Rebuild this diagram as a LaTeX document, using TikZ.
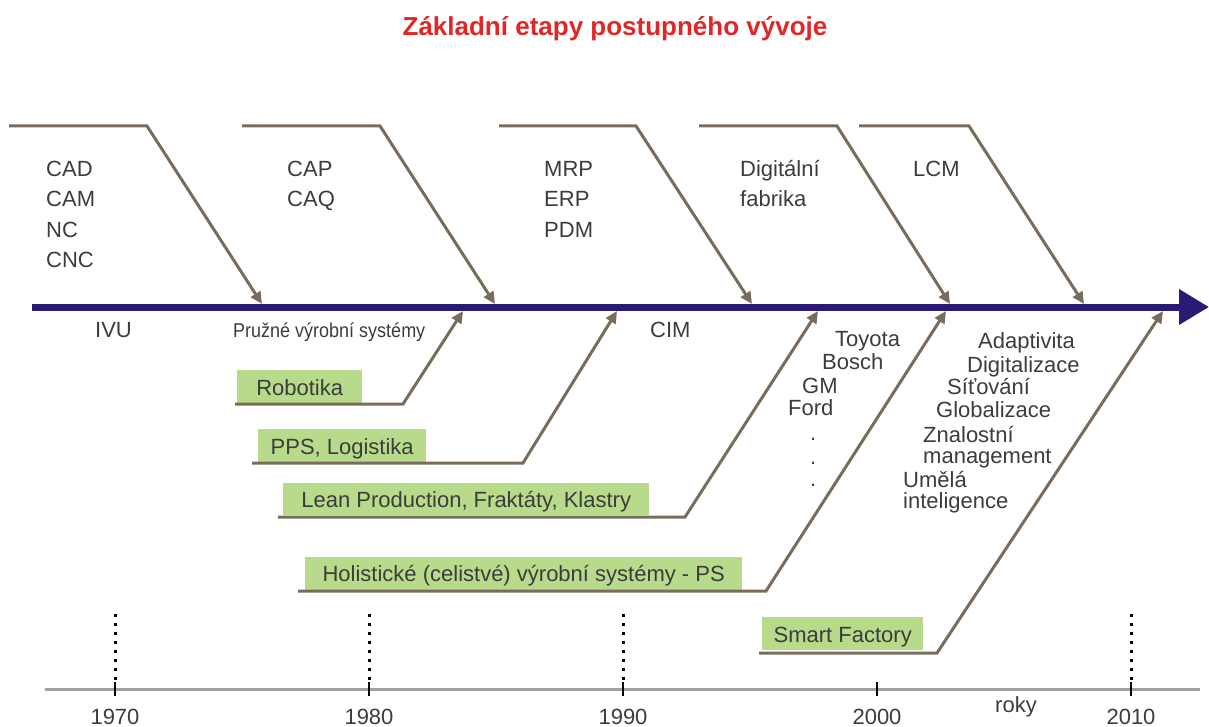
\documentclass[tikz,border=0pt]{standalone}
\usepackage{fontspec}
\setmainfont{Liberation Sans}
\newfontfamily\narrowf[FakeStretch=0.9]{Liberation Sans}
\usetikzlibrary{arrows.meta}
\definecolor{navy}{RGB}{42,26,116}
\definecolor{brn}{RGB}{122,108,92}
\definecolor{grn}{RGB}{183,219,138}
\definecolor{txt}{RGB}{60,60,60}
\definecolor{ttl}{RGB}{226,38,38}
\definecolor{axisgray}{RGB}{160,160,160}
\tikzset{
  lbl/.style={font=\fontsize{22}{22}\selectfont, text=txt, inner sep=0pt, anchor=base west},
  smalllbl/.style={font=\narrowf\fontsize{20}{20}\selectfont, text=txt, inner sep=0pt, anchor=base west},
  yearlbl/.style={font=\fontsize{22}{22}\selectfont, text=txt, inner sep=0pt, anchor=base},
  greenbox/.style={fill=grn, font=\fontsize{22}{22}\selectfont, text=txt, inner xsep=0pt, inner ysep=0pt, text height=26pt, text depth=7pt, anchor=south west},
  branch/.style={draw=brn, line width=3pt, line join=miter, -{Triangle[length=12pt,width=11pt]}},
  mainaxis/.style={draw=navy, line width=7pt, -{Triangle[length=30pt,width=34pt]}},
  dotline/.style={draw=black, line width=3pt, dash pattern=on 3pt off 6pt},
  tickmark/.style={draw=black, line width=2.5pt},
}
\begin{document}
\begin{tikzpicture}[x=1pt,y=-1pt]
\useasboundingbox (0,0) rectangle (1209,727);

% title
\node[font=\bfseries\fontsize{26}{26}\selectfont, text=ttl, inner sep=0pt, anchor=base] (title) at (615,36) {Základní etapy postupného vývoje};

% main axis
\coordinate (ax0) at (32,307);
\coordinate (ax1) at (1209,307);
\draw[mainaxis] (ax0) -- (ax1);

% upper branches
\coordinate (u1a) at (9,126);   \coordinate (u1b) at (147,126);  \coordinate (u1c) at (262,304);
\coordinate (u2a) at (242,126); \coordinate (u2b) at (380,126);  \coordinate (u2c) at (495,304);
\coordinate (u3a) at (499,126); \coordinate (u3b) at (636,126);  \coordinate (u3c) at (752,304);
\coordinate (u4a) at (699,126); \coordinate (u4b) at (837,126);  \coordinate (u4c) at (950,304);
\coordinate (u5a) at (859,126); \coordinate (u5b) at (969,126);  \coordinate (u5c) at (1084,304);
\draw[branch] (u1a) -- (u1b) -- (u1c);
\draw[branch] (u2a) -- (u2b) -- (u2c);
\draw[branch] (u3a) -- (u3b) -- (u3c);
\draw[branch] (u4a) -- (u4b) -- (u4c);
\draw[branch] (u5a) -- (u5b) -- (u5c);

% upper labels
\node[lbl] (cad) at (46,177) {CAD};
\node[lbl] (cam) at (46,207) {CAM};
\node[lbl] (nc)  at (46,238) {NC};
\node[lbl] (cnc) at (46,268) {CNC};
\node[lbl] (cap) at (287,177) {CAP};
\node[lbl] (caq) at (287,207) {CAQ};
\node[lbl] (mrp) at (544,177) {MRP};
\node[lbl] (erp) at (544,207) {ERP};
\node[lbl] (pdm) at (544,238) {PDM};
\node[lbl] (dig) at (740,177) {Digitální};
\node[lbl] (fab) at (740,207) {fabrika};
\node[lbl] (lcm) at (913,177) {LCM};

% labels below axis
\node[lbl] (ivu) at (95,337) {IVU};
\node[smalllbl] (pvs) at (233,337) {Pružné výrobní systémy};
\node[lbl] (cim) at (650,337) {CIM};

\node[lbl] (toyota) at (835,346) {Toyota};
\node[lbl] (bosch)  at (822,369) {Bosch};
\node[lbl] (gm)     at (802,393) {GM};
\node[lbl] (ford)   at (788,415) {Ford};
\node[lbl] (dot1)   at (810,440) {.};
\node[lbl] (dot2)   at (810,464) {.};
\node[lbl] (dot3)   at (810,486) {.};

\node[lbl] (adapt) at (978,348) {Adaptivita};
\node[lbl] (digi)  at (967,372) {Digitalizace};
\node[lbl] (sit)   at (947,394) {Síťování};
\node[lbl] (glob)  at (936,417) {Globalizace};
\node[lbl] (znal)  at (923,442) {Znalostní};
\node[lbl] (mgmt)  at (923,463) {management};
\node[lbl] (umela) at (903,487) {Umělá};
\node[lbl] (intel) at (903,508) {inteligence};

% green boxes
\node[greenbox, minimum width=125pt] (robot) at (237,403) {Robotika};
\node[greenbox, minimum width=168pt] (pps)   at (258,462) {PPS, Logistika};
\node[greenbox, minimum width=366pt, text height=25pt] (lean)  at (283,515) {Lean Production, Fraktáty, Klastry};
\node[greenbox, minimum width=437pt, text height=25pt, text depth=8pt] (holi)  at (305,590) {Holistické (celistvé) výrobní systémy - PS};
\node[greenbox, minimum width=161pt] (smart) at (762,650) {Smart Factory};

% lower branches
\coordinate (l1a) at (235,404); \coordinate (l1b) at (403,404); \coordinate (l1c) at (463,311);
\coordinate (l2a) at (252,463); \coordinate (l2b) at (523,463); \coordinate (l2c) at (617,311);
\coordinate (l3a) at (278,517); \coordinate (l3b) at (685,517); \coordinate (l3c) at (818,311);
\coordinate (l4a) at (298,591); \coordinate (l4b) at (766,591); \coordinate (l4c) at (946,311);
\coordinate (l5a) at (759,653); \coordinate (l5b) at (937,653); \coordinate (l5c) at (1163,311);
\draw[branch] (l1a) -- (l1b) -- (l1c);
\draw[branch] (l2a) -- (l2b) -- (l2c);
\draw[branch] (l3a) -- (l3b) -- (l3c);
\draw[branch] (l4a) -- (l4b) -- (l4c);
\draw[branch] (l5a) -- (l5b) -- (l5c);

% time axis
\coordinate (t0) at (45,689);
\coordinate (t1) at (1200,689);
\draw[draw=axisgray, line width=3pt] (t0) -- (t1);
\foreach \x/\n in {115/a,369/b,623/c,877/d,1131/e}{
  \coordinate (tk\n0) at (\x,682);
  \coordinate (tk\n1) at (\x,696);
  \draw[tickmark] (tk\n0) -- (tk\n1);
}
\foreach \x/\n in {115/a,369/b,623/c,1131/e}{
  \coordinate (dl\n0) at (\x,614);
  \coordinate (dl\n1) at (\x,680);
  \draw[dotline] (dl\n0) -- (dl\n1);
}
\node[yearlbl] (y1970) at (115,724) {1970};
\node[yearlbl] (y1980) at (369,724) {1980};
\node[yearlbl] (y1990) at (623,724) {1990};
\node[yearlbl] (y2000) at (877,724) {2000};
\node[yearlbl] (y2010) at (1131,724) {2010};
\node[lbl] (roky) at (995,712) {roky};
\end{tikzpicture}
\end{document}
